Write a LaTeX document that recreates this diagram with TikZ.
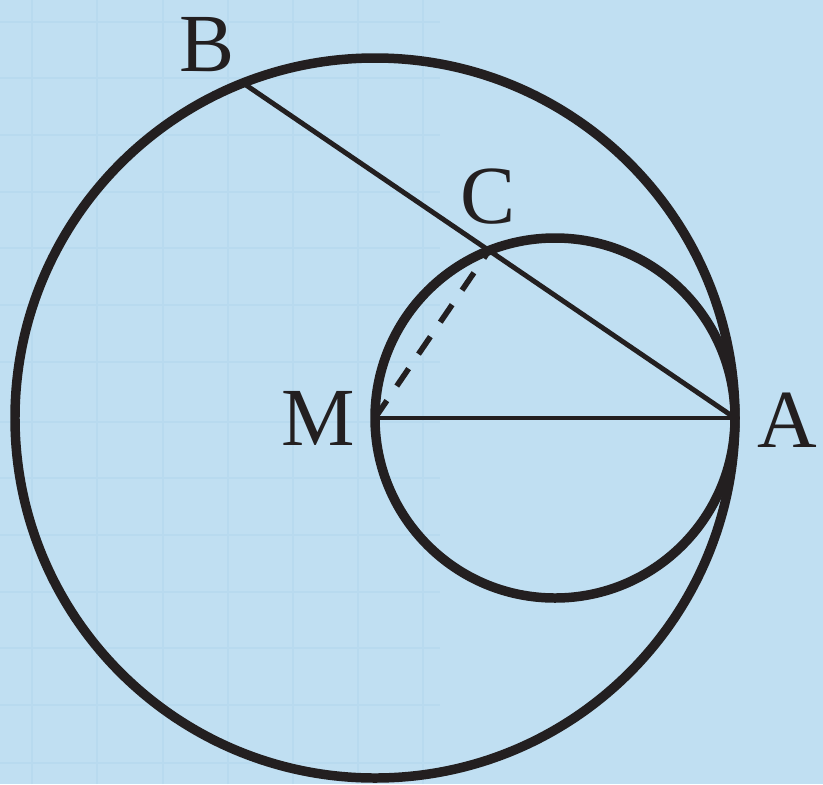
\documentclass[tikz,border=0pt]{standalone}
\usepackage{fontspec}
\setmainfont{Liberation Serif}
\usetikzlibrary{calc}
\definecolor{bgblue}{RGB}{192,223,242}
\definecolor{gridblue}{RGB}{184,218,239}
\definecolor{ink}{RGB}{35,31,32}
\tikzset{
  thickcirc/.style={draw=ink, line width=2.7pt},
  segline/.style={draw=ink, line width=1.4pt},
  dashline/.style={draw=ink, line width=1.6pt, dash pattern=on 6pt off 5pt},
  ptlabel/.style={text=ink, font=\fontsize{23.5}{26}\selectfont, inner sep=0pt},
  gridline/.style={draw=gridblue, line width=0.8pt}
}
\begin{document}
\begin{tikzpicture}
\fill[bgblue] (0,0) rectangle (8.23,7.84);
\useasboundingbox (0,0) rectangle (8.23,7.84);
% faint grid
\foreach \gx in {0.32,0.97,1.63,2.28,2.93,3.58,4.23}
  \draw[gridline] (\gx,0) -- (\gx,7.84);
\foreach \gy in {7.62,7.06,6.49,5.92,5.36,4.79,4.22,3.62,3.06,2.49,1.92,1.36,0.79,0.21}
  \draw[gridline] (0,\gy) -- (4.4,\gy);
% points
\coordinate (M) at (3.75,3.66);
\coordinate (A) at (7.35,3.66);
\coordinate (S) at (5.55,3.66);
\coordinate (B) at ($(M)+(111.5:3.6)$);
\coordinate (C) at ($(A)!0.5!(B)$);
% circles
\draw[thickcirc] (M) circle (3.6cm);
\draw[thickcirc] (S) circle (1.8cm);
% segments
\draw[segline] (B) -- (A);
\draw[segline] (M) -- (A);
\draw[dashline] (M) -- (C);
% labels
\node[ptlabel] (lB) at (2.07,7.39) {B};
\node[ptlabel] (lC) at (4.88,5.87) {C};
\node[ptlabel] (lM) at (3.18,3.66) {M};
\node[ptlabel] (lA) at (7.87,3.64) {A};
\end{tikzpicture}
\end{document}
